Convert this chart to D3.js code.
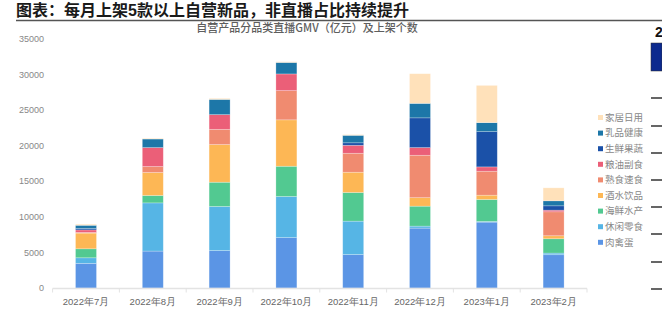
<!DOCTYPE html>
<html><head><meta charset="utf-8">
<script src="https://cdn.jsdelivr.net/npm/d3@7/dist/d3.min.js"></script>
<style>
html,body{margin:0;padding:0;background:#fff;}
svg{display:block;font-family:"Liberation Sans","Noto Sans CJK SC",sans-serif;}
</style></head>
<body>
<svg id="c" width="662" height="329"></svg>
<script>
const months = ['2022年7月','2022年8月','2022年9月','2022年10月','2022年11月','2022年12月','2023年1月','2023年2月'];
const seriesNames = ['肉禽蛋','休闲零食','海鲜水产','酒水饮品','熟食速食','粮油副食','生鲜果蔬','乳品健康','家居日用'];
const meat    = [3460,5180,5250,7070,4690,8400,9240,4670];
const snack   = [780,6760,6190,5770,4690,280,100,230];
const seafood = [1260,1040,3400,4240,4020,2800,3080,2010];
const drinks  = [2200,3220,5280,6510,2840,1190,600,420];
const deli    = [100,840,2140,4100,2660,5950,3360,3360];
const grain   = [350,2660,2060,2340,1120,1080,610,230];
const fresh   = [200,0,0,0,350,4170,4950,610];
const dairy   = [450,1200,2140,1610,1050,2030,1260,700];
const home    = [150,100,140,100,100,4160,5220,1820];
const yTicks  = [0,5000,10000,15000,20000,25000,30000,35000];
const colors  = ['#5B95E5','#56B5E5','#52C991','#FDB755','#F08B70','#EB5F78','#1B51A8','#1D77A8','#FFE1BA'];

const seriesVals = [meat,snack,seafood,drinks,deli,grain,fresh,dairy,home];
const table = months.map((m,i)=>{const o={month:m};seriesNames.forEach((s,j)=>o[s]=seriesVals[j][i]);return o;});
const stack = d3.stack().keys(seriesNames)(table);

const svg = d3.select('#c');
const x = d3.scaleBand().domain(months).range([52.6,587]).paddingInner(0.686).paddingOuter(0.343);
const y = d3.scaleLinear().domain([0,35000]).range([288,38.5]);
const color = d3.scaleOrdinal().domain(seriesNames).range(colors);

// Title
svg.append('text').attr('x',16).attr('y',16).attr('font-size',16).attr('font-weight','bold')
  .attr('fill','#1a1a1a').attr('font-family','"Liberation Sans","Noto Sans CJK SC",sans-serif')
  .text('图表：每月上架5款以上自营新品，非直播占比持续提升');
svg.append('line').attr('x1',16).attr('x2',662).attr('y1',20.5).attr('y2',20.5).attr('stroke','#555').attr('stroke-width',1.5);

// chart subtitle
svg.append('text').attr('x',307).attr('y',32).attr('text-anchor','middle').attr('font-size',11)
  .attr('fill','#5e5e5e').attr('font-family','"Noto Sans CJK SC",sans-serif').attr('font-weight',500)
  .text('自营产品分品类直播GMV（亿元）及上架个数');

// y axis labels
const yAxis = d3.axisLeft(y).tickValues(yTicks).tickSize(0).tickPadding(0).tickFormat(d3.format('d'));
const yg = svg.append('g').attr('transform','translate(44,0)').call(yAxis);
yg.select('.domain').remove();
yg.selectAll('text').attr('font-size',9).attr('fill','#888').attr('font-family','"Liberation Sans",sans-serif');

// bars
svg.append('g').selectAll('g').data(stack).join('g').attr('fill',d=>color(d.key))
  .selectAll('rect').data(d=>d).join('rect')
  .attr('x',d=>x(d.data.month)).attr('width',x.bandwidth())
  .attr('y',d=>y(d[1])).attr('height',d=>Math.max(0,y(d[0])-y(d[1])))
  .attr('stroke','rgba(255,255,255,0.35)').attr('stroke-width',0.7);

// x axis
const xg = svg.append('g').attr('transform','translate(0,288.5)');
xg.append('line').attr('x1',x.range()[0]).attr('x2',x.range()[1]).attr('stroke','#e3e3e3').attr('stroke-width',1.5);
const bounds = d3.range(months.length+1).map(i=>x.range()[0]+i*x.step());
xg.selectAll('line.tk').data(bounds).join('line').attr('class','tk')
  .attr('x1',d=>d).attr('x2',d=>d).attr('y1',0).attr('y2',4).attr('stroke','#e3e3e3');
const xAxis = d3.axisBottom(x).tickSize(0).tickPadding(0);
const xl = svg.append('g').attr('transform','translate(0,298.5)').call(xAxis);
xl.select('.domain').remove();
xl.selectAll('text').attr('font-size',9.5).attr('fill','#666').attr('dy','0.71em');

// legend
const leg = svg.append('g');
const legNames = seriesNames.slice().reverse();
legNames.forEach((n,i)=>{
  const yy = 117.5 + i*15.6;
  leg.append('rect').attr('x',598).attr('y',yy-2.5).attr('width',5).attr('height',5).attr('fill',color(n));
  leg.append('text').attr('x',605).attr('y',yy).attr('dy','0.35em').attr('font-size',9.5).attr('fill','#888')
    .attr('font-family','"Noto Sans CJK SC",sans-serif').text(n);
});

// right-edge fragments of neighbouring chart
svg.append('text').attr('x',655).attr('y',37).attr('font-size',14).attr('font-weight','bold').attr('fill','#111').text('2');
svg.append('rect').attr('x',651).attr('y',43).attr('width',11).attr('height',28).attr('fill','#0c2a8e').attr('stroke','#333').attr('stroke-width',0.5);
[98,126,153,180,207,234,262,289].forEach(v=>{
  svg.append('line').attr('x1',651).attr('x2',662).attr('y1',v).attr('y2',v).attr('stroke','#333').attr('stroke-width',1.5);
});
</script>
</body></html>
